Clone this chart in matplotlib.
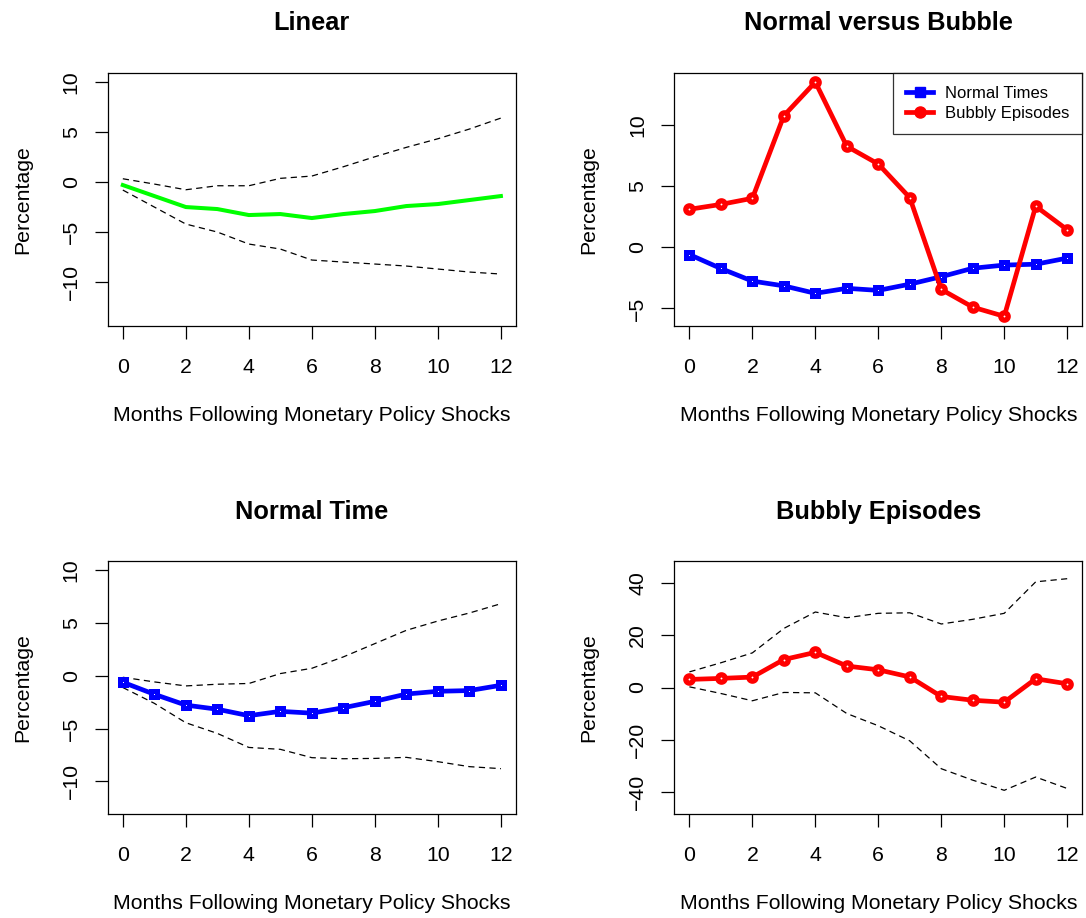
import numpy as np
import matplotlib
matplotlib.use("Agg")
import matplotlib.pyplot as plt
from matplotlib.lines import Line2D

plt.rcParams['font.family'] = ['Liberation Sans', 'DejaVu Sans']

months = np.arange(0, 13)

# impulse responses (percent) with confidence bands
linear_irf = [-0.3, -1.4, -2.5, -2.7, -3.3, -3.2, -3.6, -3.2, -2.9, -2.4, -2.2, -1.8, -1.4]
linear_upper = [0.33, -0.2, -0.77, -0.37, -0.37, 0.37, 0.6, 1.53, 2.53, 3.47, 4.33, 5.3, 6.4]
linear_lower = [-0.8, -2.5, -4.2, -5.0, -6.2, -6.7, -7.8, -8.0, -8.2, -8.4, -8.7, -9.0, -9.2]

normal_irf = [-0.6, -1.74, -2.77, -3.16, -3.77, -3.36, -3.53, -3.02, -2.41, -1.72, -1.46, -1.39, -0.89]
normal_upper = [-0.13, -0.57, -0.95, -0.79, -0.72, 0.22, 0.72, 1.8, 3.06, 4.32, 5.2, 5.96, 6.84]
normal_lower = [-1.1, -2.6, -4.44, -5.45, -6.78, -6.96, -7.75, -7.85, -7.82, -7.72, -8.13, -8.6, -8.79]

bubble_irf = [3.1, 3.5, 4.0, 10.75, 13.5, 8.25, 6.8, 4.05, -3.45, -4.9, -5.65, 3.35, 1.43]
bubble_upper = [6.0, 9.5, 13.3, 22.7, 29.0, 26.8, 28.5, 28.7, 24.4, 26.2, 28.5, 40.6, 41.8]
bubble_lower = [0.26, -2.3, -5.1, -1.9, -2.05, -10.0, -14.7, -20.5, -31.2, -35.6, -39.5, -34.4, -38.8]

titles = ["Linear", "Normal versus Bubble", "Normal Time", "Bubbly Episodes"]
xlab = "Months Following Monetary Policy Shocks"
ylab = "Percentage"

W, H = 1086, 918
FS = 15.3


def r_range(lo, hi):
    # base-R style 4% padding
    d = 0.04 * (hi - lo)
    return lo - d, hi + d


def make_axes(left, top, right, bottom):
    return fig.add_axes([left / W, 1 - bottom / H, (right - left) / W, (bottom - top) / H])


def style(ax, title, ylim, yticks):
    ax.set_xlim(*r_range(0, 12))
    ax.set_ylim(*ylim)
    ax.set_xticks([0, 2, 4, 6, 8, 10, 12])
    ax.set_yticks(yticks)
    ax.tick_params(axis='both', direction='out', length=9.4, width=0.9,
                   labelsize=FS, color='black')
    ax.tick_params(axis='x', pad=13.5)
    ax.tick_params(axis='y', pad=10, labelrotation=90)
    for lab in ax.get_yticklabels():
        lab.set_va('center')
    for sp in ax.spines.values():
        sp.set_linewidth(0.9)
    ax.set_title(title, fontsize=18.3, fontweight='bold', pad=30.5)
    ax.set_xlabel(xlab, fontsize=FS)
    ax.set_ylabel(ylab, fontsize=FS)
    ax.xaxis.set_label_coords(0.5, -0.318)
    ax.yaxis.set_label_coords(-0.186, 0.5)


def bands(ax, upper, lower):
    for band in (upper, lower):
        ax.plot(months, band, color='black', lw=0.9, dashes=(5, 3.5))


fig = plt.figure(figsize=(W / 100, H / 100), dpi=100)

ax1 = make_axes(107.7, 72.7, 516, 325.7)
ax2 = make_axes(674.3, 72.7, 1082.3, 325.7)
ax3 = make_axes(107.7, 561, 516, 814)
ax4 = make_axes(674.3, 561, 1082.3, 814)

sq = dict(marker='s', ms=5, mew=3.6, mfc='white')
circ = dict(marker='o', ms=5.3, mew=3.8, mfc='white')

# Linear
bands(ax1, linear_upper, linear_lower)
ax1.plot(months, linear_irf, color='#00ff00', lw=2.9)
style(ax1, titles[0], r_range(-13.43, 10), [-10, -5, 0, 5, 10])

# Normal versus Bubble
ax2.plot(months, normal_irf, color='#0000ff', mec='#0000ff', lw=3.4, **sq)
ax2.plot(months, bubble_irf, color='#ff0000', mec='#ff0000', lw=3.4, **circ)
lo = min(min(normal_irf), min(bubble_irf))
hi = max(max(normal_irf), max(bubble_irf))
style(ax2, titles[1], r_range(lo, hi), [-5, 0, 5, 10])
handles = [Line2D([], [], color='#0000ff', lw=3.4, marker='s', ms=7),
           Line2D([], [], color='#ff0000', lw=3.4, marker='o', ms=8)]
leg = ax2.legend(handles, ["Normal Times", "Bubbly Episodes"], loc='upper right',
                 fontsize=12, frameon=True, fancybox=False, borderaxespad=0,
                 handlelength=1.6, handletextpad=0.7, borderpad=0.8,
                 labelspacing=0.3)
leg.get_frame().set_edgecolor('black')
leg.get_frame().set_linewidth(0.9)

# Normal Time
bands(ax3, normal_upper, normal_lower)
ax3.plot(months, normal_irf, color='#0000ff', mec='#0000ff', lw=3.4, **sq)
style(ax3, titles[2], r_range(-12.2, 10), [-10, -5, 0, 5, 10])

# Bubbly Episodes
bands(ax4, bubble_upper, bubble_lower)
ax4.plot(months, bubble_irf, color='#ff0000', mec='#ff0000', lw=3.4, **circ)
style(ax4, titles[3], r_range(-45, 45), [-40, -20, 0, 20, 40])

fig.savefig("out.png", dpi=100)
